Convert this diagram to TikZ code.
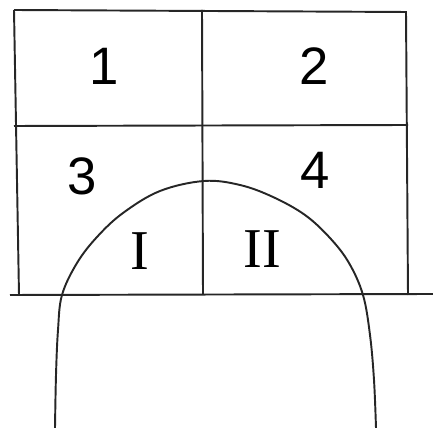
\documentclass[tikz,border=0pt]{standalone}
\usepackage{fontspec}
\newfontfamily\numfont{Liberation Sans}
\newfontfamily\romfont{Liberation Serif}
\begin{document}
\begin{tikzpicture}[x=0.02cm,y=-0.02cm,
  pen/.style={line width=1.1pt,black!85},
  digit/.style={font=\numfont\fontsize{30}{30}\selectfont,inner sep=0pt},
  roman/.style={font=\romfont\fontsize{32}{32}\selectfont,inner sep=0pt}]
\useasboundingbox (0,0) rectangle (433,428);
% grid
\draw[pen] (14,10) -- (406,12) -- (408,295);
\draw[pen] (14,10) -- (19,295);
\draw[pen] (14,126) -- (408,125);
\draw[pen] (202,10) -- (203,295);
\draw[pen] (10,295) -- (433,294);
% arch
\draw[pen] plot[smooth,tension=0.6] coordinates {(55,428) (56,375) (58,330) (62,295) (77,263) (97,237) (123,213) (160,191) (204,181) (240,185) (273,197) (305,215) (330,238) (349,263) (363,295) (370,335) (374,380) (376,428)};
% labels
\node[digit] (n1) at (104,66) {1};
\node[digit] (n2) at (314,66) {2};
\node[digit] (n3) at (82,176) {3};
\node[digit] (n4) at (315,170) {4};
\node[roman] (r1) at (140,251) {I};
\node[roman] (r2) at (262,249) {II};
\end{tikzpicture}
\end{document}
